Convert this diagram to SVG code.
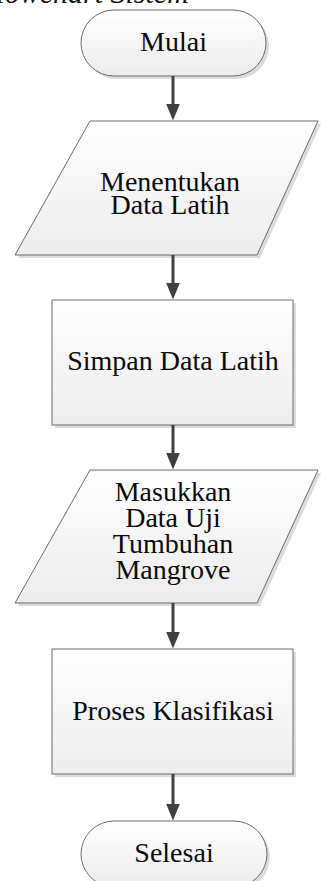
<svg xmlns="http://www.w3.org/2000/svg" width="321" height="881" viewBox="0 0 321 881">
<defs>
<linearGradient id="g" x1="0" y1="0" x2="0" y2="1">
<stop offset="0" stop-color="#ffffff"/>
<stop offset="1" stop-color="#ececec"/>
</linearGradient>
<marker id="ah" markerWidth="17" markerHeight="14" refX="0.5" refY="7" orient="auto" markerUnits="userSpaceOnUse" viewBox="0 0 17 14">
<path d="M0,0 L17,7 L0,14 Z" fill="#404040"/>
</marker>
</defs>
<style>
.s{fill:url(#g);stroke:#6b6b6b;stroke-width:1}
.sh{fill:#dcdcdc;stroke:none}
.c{stroke:#404040;stroke-width:3;fill:none}
</style>
<text x="-22" y="3" font-family="Liberation Serif, Times New Roman, serif" font-style="italic" font-size="30" fill="#111">Flowchart Sistem</text>
<g font-family="Liberation Serif, Times New Roman, serif" font-size="28" fill="#0a0a0a" text-anchor="middle">
<g id="mulai">
<rect class="sh" x="84" y="13" width="185" height="66" rx="33"/>
<rect class="s" x="81" y="10" width="185" height="66" rx="33"/>
<text x="173.5" y="51">Mulai</text>
</g>
<g id="menentukan">
<polygon class="sh" points="93,124 321,124 260,258 18,258"/>
<polygon class="s" points="90,121 318,121 257,255 15,255"/>
<text x="170" y="191">Menentukan</text>
<text x="170" y="214">Data Latih</text>
</g>
<g id="simpan">
<rect class="sh" x="55" y="303" width="241" height="125"/>
<rect class="s" x="52" y="300" width="241" height="125"/>
<text x="173" y="370">Simpan Data Latih</text>
</g>
<g id="masukkan">
<polygon class="sh" points="93,473 321,473 260,606 18,606"/>
<polygon class="s" points="90,470 318,470 257,603 15,603"/>
<text x="173" y="501">Masukkan</text>
<text x="173" y="527">Data Uji</text>
<text x="173" y="553">Tumbuhan</text>
<text x="173" y="579">Mangrove</text>
</g>
<g id="proses">
<rect class="sh" x="55" y="652" width="241" height="125"/>
<rect class="s" x="52" y="649" width="241" height="125"/>
<text x="173" y="720">Proses Klasifikasi</text>
</g>
<g id="selesai">
<rect class="sh" x="84" y="824" width="186" height="66" rx="33"/>
<rect class="s" x="81" y="821" width="186" height="66" rx="33"/>
<text x="174" y="862">Selesai</text>
</g>
</g>
<g id="connectors">
<line class="c" x1="173" y1="76" x2="173" y2="104" marker-end="url(#ah)"/>
<line class="c" x1="173" y1="255" x2="173" y2="283" marker-end="url(#ah)"/>
<line class="c" x1="173" y1="425" x2="173" y2="453" marker-end="url(#ah)"/>
<line class="c" x1="173" y1="603" x2="173" y2="632" marker-end="url(#ah)"/>
<line class="c" x1="173" y1="774" x2="173" y2="804" marker-end="url(#ah)"/>
</g>
</svg>
